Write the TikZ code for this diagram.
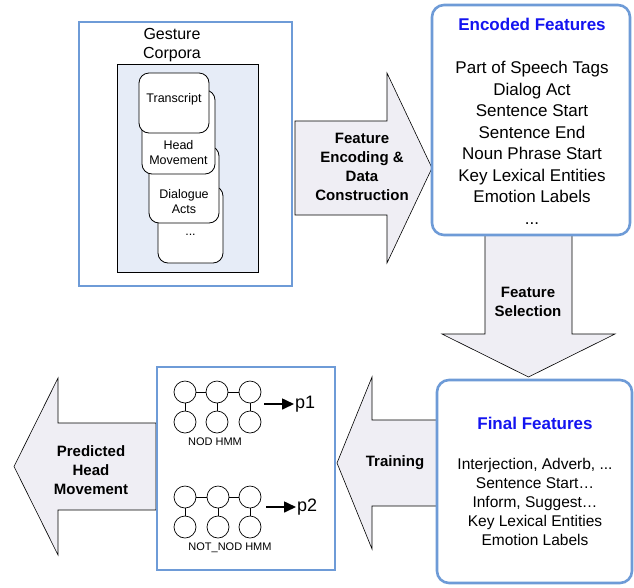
\documentclass[tikz,border=0pt]{standalone}
\usepackage{fontspec}
\setmainfont{Liberation Sans}
\usepackage{tikz}
\usetikzlibrary{arrows.meta}
\definecolor{boxblue}{RGB}{110,155,215}
\definecolor{corpfill}{RGB}{230,236,247}
\definecolor{arrowfill}{RGB}{239,238,244}
\definecolor{titleblue}{RGB}{20,20,240}
\tikzset{
    blue-box/.style = {draw=boxblue, fill=white, line width=2.6pt, rectangle, inner sep=0pt},
    rounded-blue-box/.style = {blue-box, rounded corners=12pt},
    doc-box/.style = {draw=black, fill=white, line width=0.8pt, rounded corners=10pt, inner sep=0pt},
    doc-text/.style = {font=\fontsize{12.5}{15}\selectfont, align=center, inner sep=0pt},
    block-arrow/.style = {draw=black, fill=arrowfill, line width=0.6pt},
    arrow-text/.style = {font=\bfseries\fontsize{15}{19}\selectfont, align=center, inner sep=0pt},
    box-title/.style = {text=titleblue, font=\bfseries\fontsize{17}{21}\selectfont, inner sep=0pt},
    hmm-state/.style = {draw=black, circle, minimum size=22pt, inner sep=0pt, line width=0.7pt},
    hmm-label/.style = {font=\fontsize{11}{13}\selectfont, inner sep=0pt},
}

\begin{document}
\begin{tikzpicture}[x=1pt, y=-1pt]
\useasboundingbox (0,0) rectangle (634,587);

% block arrows, drawn first so the boxes sit on top
\draw[block-arrow] (295,121) -- (387,121) -- (387,73) -- (432,168) -- (387,263) -- (387,215) -- (295,215) -- cycle;
\node[arrow-text] (encoding) at (362,167) {Feature\\Encoding \&\\Data\\Construction};

\draw[block-arrow] (485,233) -- (572,233) -- (572,334) -- (615,334) -- (528.5,377) -- (442,334) -- (485,334) -- cycle;
\node[arrow-text] (selection) at (528,302) {Feature\\Selection};

\draw[block-arrow] (440,420) -- (372,420) -- (372,377) -- (337,463) -- (372,549) -- (372,506) -- (440,506) -- cycle;
\node[arrow-text] (training) at (395,463) {Training};

\draw[block-arrow] (156,423) -- (58,423) -- (58,378) -- (14,466.5) -- (58,555) -- (58,510) -- (156,510) -- cycle;
\node[arrow-text] (predicted) at (91,470) {Predicted\\Head\\Movement};

% gesture corpora
\node[blue-box, minimum width=213pt, minimum height=264pt] (corpora) at (185.5,154) {};
\node[font=\fontsize{16}{19}\selectfont, align=center, inner sep=0pt] (corpora-title) at (172,45) {Gesture\\Corpora};
\node[draw=black, fill=corpfill, line width=0.8pt, minimum width=141pt, minimum height=208pt, inner sep=0pt] (corpora-inner) at (187.5,168) {};

\node[doc-box, minimum width=65pt, minimum height=77pt] (dots) at (190.5,224.5) {};
\node[doc-text] (dots-text) at (190.5,235) {...};
\node[doc-box, minimum width=70pt, minimum height=77pt] (acts) at (184,184.5) {};
\node[doc-text] (acts-text) at (184,201.5) {Dialogue\\Acts};
\node[doc-box, minimum width=73pt, minimum height=84pt] (head) at (178.5,132) {};
\node[doc-text] (head-text) at (178.5,152.5) {Head\\Movement};
\node[doc-box, minimum width=70pt, minimum height=60pt] (transcript) at (174,103) {};
\node[doc-text] (transcript-text) at (174,99) {Transcript};

% encoded features
\node[rounded-blue-box, minimum width=198pt, minimum height=230pt] (encoded) at (531,120) {};
\node[box-title] (encoded-title) at (532,24) {Encoded Features};
\node[font=\fontsize{17}{21.5}\selectfont, align=center, inner sep=0pt] (encoded-list) at (532,143) {Part of Speech Tags\\Dialog Act\\Sentence Start\\Sentence End\\Noun Phrase Start\\Key Lexical Entities\\Emotion Labels\\...};

% final features
\node[rounded-blue-box, minimum width=195pt, minimum height=203pt] (final) at (534.5,481.5) {};
\node[box-title] (final-title) at (535,423) {Final Features};
\node[font=\fontsize{15.5}{19}\selectfont, align=center, inner sep=0pt] (final-list) at (535,502) {Interjection, Adverb, ...\\Sentence Start\ldots\\Inform, Suggest\ldots\\Key Lexical Entities\\Emotion Labels};

% hmm models
\node[blue-box, minimum width=178pt, minimum height=203pt] (hmm) at (246,468.5) {};

\node[hmm-state] (nodt1) at (185,392) {};
\node[hmm-state] (nodt2) at (217,392) {};
\node[hmm-state] (nodt3) at (250,392) {};
\node[hmm-state] (nodb1) at (185,422) {};
\node[hmm-state] (nodb2) at (217,422) {};
\node[hmm-state] (nodb3) at (250,422) {};
\draw[line width=0.7pt] (nodt1) -- (nodt2);
\draw[line width=0.7pt] (nodt2) -- (nodt3);
\draw[line width=0.7pt] (nodt1) -- (nodb1);
\draw[line width=0.7pt] (nodt2) -- (nodb2);
\draw[line width=0.7pt] (nodt3) -- (nodb3);
\node[hmm-label] (nod-label) at (215,442) {NOD HMM};
\node[font=\fontsize{18}{20}\selectfont, anchor=west, inner sep=1pt] (p1) at (294,404) {p1};
\coordinate (nod-out) at (264,404);
\draw[line width=1.6pt, -{Triangle[length=12pt,width=11pt]}] (nod-out) -- (p1.west);

\node[hmm-state] (nott1) at (185,497) {};
\node[hmm-state] (nott2) at (218,497) {};
\node[hmm-state] (nott3) at (250,497) {};
\node[hmm-state] (notb1) at (185,527) {};
\node[hmm-state] (notb2) at (218,527) {};
\node[hmm-state] (notb3) at (250,527) {};
\draw[line width=0.7pt] (nott1) -- (nott2);
\draw[line width=0.7pt] (nott2) -- (nott3);
\draw[line width=0.7pt] (nott1) -- (notb1);
\draw[line width=0.7pt] (nott2) -- (notb2);
\draw[line width=0.7pt] (nott3) -- (notb3);
\node[hmm-label] (not-label) at (230,548) {NOT\_NOD HMM};
\node[font=\fontsize{18}{20}\selectfont, anchor=west, inner sep=1pt] (p2) at (296,507) {p2};
\coordinate (not-out) at (266,507);
\draw[line width=1.6pt, -{Triangle[length=12pt,width=11pt]}] (not-out) -- (p2.west);
\end{tikzpicture}
\end{document}
